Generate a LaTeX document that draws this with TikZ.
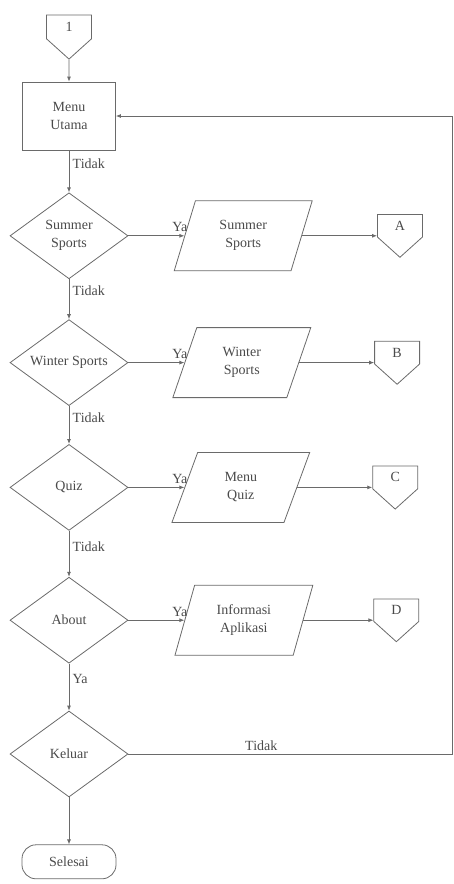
\documentclass[tikz,border=0pt]{standalone}
\usepackage{fontspec}
\setmainfont{Liberation Serif}
\usetikzlibrary{positioning, arrows.meta, shapes.geometric, shapes.symbols}
\definecolor{garis}{HTML}{6A6A6A}
\definecolor{teks}{HTML}{4A4A4A}
\tikzset{
  proses/.style={
    draw=garis,
    rectangle,
    minimum width=93pt,
    minimum height=68pt,
    align=center
  },
  keputusan/.style={
    draw=garis,
    diamond,
    aspect=1.37,
    minimum width=118pt,
    minimum height=86pt,
    inner sep=0pt,
    align=center
  },
  data/.style={
    draw=garis,
    trapezium,
    trapezium left angle=72,
    trapezium right angle=108,
    trapezium stretches=true,
    minimum width=138pt,
    minimum height=70pt,
    align=center
  },
  offpage/.style={
    draw=garis,
    signal,
    signal to=south,
    signal pointer angle=96,
    minimum width=45pt,
    minimum height=27pt,
    inner sep=0pt
  },
  panah/.style={
    draw=garis,
    -{Latex[length=5pt, width=4pt]}
  }
}

\begin{document}
\begin{tikzpicture}[x=1pt, y=-1pt, line width=0.8pt, text=teks,
      font=\fontsize{14}{18}\selectfont,
      terminal/.style={draw=garis, rectangle, rounded corners=14pt, minimum width=94pt, minimum height=34pt}
    ]
      \useasboundingbox (0,0) rectangle (454,884);

      \node[proses] (menu) at (69,116) {Menu\\Utama};
      \node[offpage, above=22pt of menu] (satu) {1};

      \node[keputusan, below=42pt of menu] (summer) {Summer\\Sports};
      \node[keputusan, below=40pt of summer] (winter) {Winter Sports};
      \node[keputusan, below=38pt of winter] (quiz) {Quiz};
      \node[keputusan, below=46pt of quiz] (about) {About};
      \node[keputusan, below=47pt of about] (keluar) {Keluar};
      \node[terminal, below=47pt of keluar] (selesai) {Selesai};

      \node[data, right=56pt of summer] (dsummer) {Summer\\Sports};
      \node[data, right=56pt of winter] (dwinter) {Winter\\Sports};
      \node[data, right=56pt of quiz] (dquiz) {Menu\\Quiz};
      \node[data, right=56pt of about] (dabout) {Informasi\\Aplikasi};

      \node[offpage, right=75pt of dsummer, yshift=10pt] (A) {A};
      \node[offpage, right=75pt of dwinter, yshift=10pt] (B) {B};
      \node[offpage, right=75pt of dquiz, yshift=10pt] (C) {C};
      \node[offpage, right=70pt of dabout, yshift=10pt] (D) {D};

      \coordinate (kanan) at (452.5,0);

      % alur utama
      \draw[panah] (satu) -- (menu);
      \draw[panah] (menu) -- node[right, pos=0.32] {Tidak} (summer);
      \draw[panah] (summer) -- node[right, pos=0.3] {Tidak} (winter);
      \draw[panah] (winter) -- node[right, pos=0.3] {Tidak} (quiz);
      \draw[panah] (quiz) -- node[right, pos=0.34] {Tidak} (about);
      \draw[panah] (about) -- node[right, pos=0.32] {Ya} (keluar);
      \draw[panah] (keluar) -- (selesai);

      % pilihan menu
      \draw[panah] (summer.east) -- node[above, pos=0.92] {Ya} (dsummer.west);
      \draw[panah] (winter.east) -- node[above, pos=0.92] {Ya} (dwinter.west);
      \draw[panah] (quiz.east) -- node[above, pos=0.92] {Ya} (dquiz.west);
      \draw[panah] (about.east) -- node[above, pos=0.92] {Ya} (dabout.west);

      \draw[panah] (dsummer.east) -- (dsummer.east -| A.west);
      \draw[panah] (dwinter.east) -- (dwinter.east -| B.west);
      \draw[panah] (dquiz.east) -- (dquiz.east -| C.west);
      \draw[panah] (dabout.east) -- (dabout.east -| D.west);

      % kembali ke menu
      \draw[panah] (keluar.east) -- node[above, pos=0.41] {Tidak} (keluar.east -| kanan) |- (menu.east);
    \end{tikzpicture}
\end{document}
